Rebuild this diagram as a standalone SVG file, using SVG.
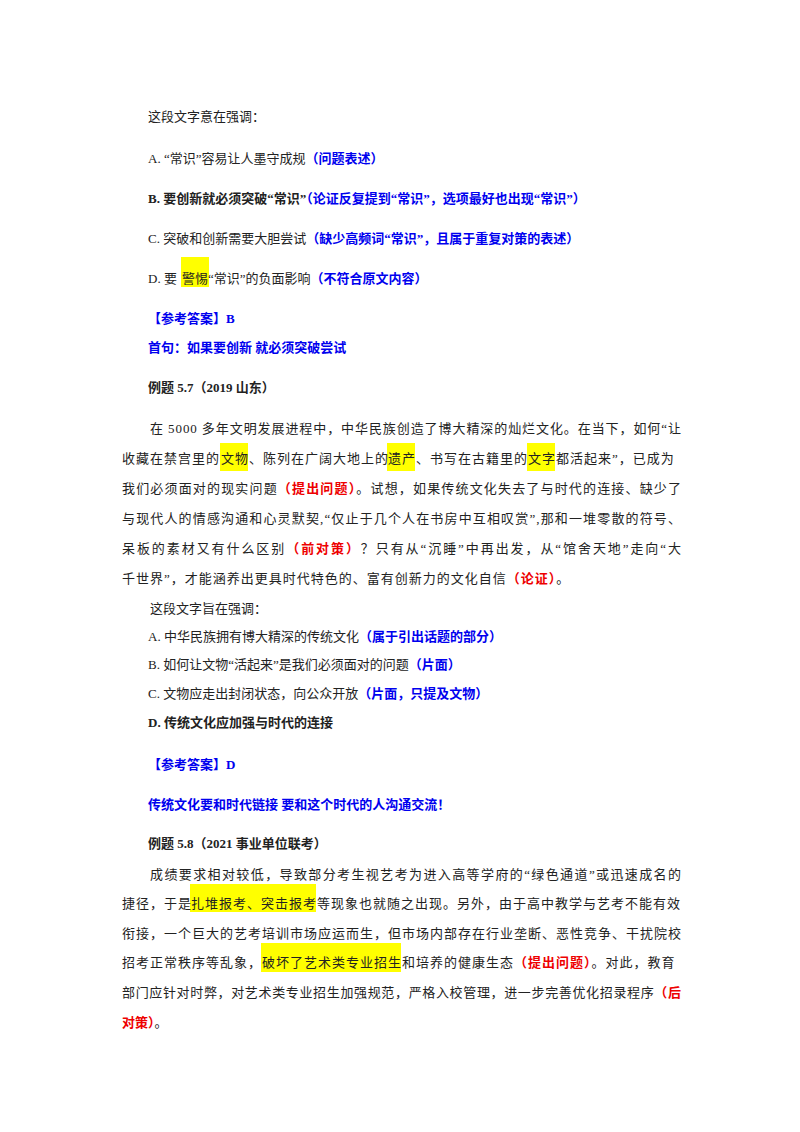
<svg xmlns="http://www.w3.org/2000/svg" width="800" height="1132" viewBox="0 0 800 1132">
<style>
text{font-family:"Liberation Serif","Noto Sans CJK SC",serif;font-size:13px;fill:#222}
.b{font-weight:bold}
.bl{fill:#0000ee;font-weight:bold}
.r{fill:#ee0000;font-weight:bold}
.hl{fill:#ffff00}
.ls{letter-spacing:1px}
</style>
<rect width="800" height="1132" fill="#fff"/>
<rect class="hl" x="181" y="257" width="28" height="30"/>
<rect class="hl" x="220" y="443" width="28" height="28"/>
<rect class="hl" x="387" y="443" width="28" height="28"/>
<rect class="hl" x="527" y="443" width="28" height="28"/>
<rect class="hl" x="190" y="884" width="126" height="28"/>
<rect class="hl" x="261" y="943" width="140" height="29"/>
<text x="148" y="121">这段文字意在强调：</text>
<text x="148" y="163">A. “常识”容易让人墨守成规<tspan class="bl">（问题表述）</tspan></text>
<text x="148" y="203" class="b">B. 要创新就必须突破“常识”<tspan class="bl">（论证反复提到“常识”，选项最好也出现“常识”）</tspan></text>
<text x="148" y="243">C. 突破和创新需要大胆尝试<tspan class="bl">（缺少高频词“常识”，且属于重复对策的表述）</tspan></text>
<text x="148" y="283">D. 要<tspan x="182">警惕</tspan>“常识”的负面影响<tspan class="bl">（不符合原文内容）</tspan></text>
<text x="148" y="323" class="bl">【参考答案】B</text>
<text x="148" y="352" class="bl">首句：如果要创新 就必须突破尝试</text>
<text x="148" y="392" class="b">例题 5.7（2019 山东）</text>
<text x="150" y="433" textLength="531" lengthAdjust="spacing">在 5000 多年文明发展进程中，中华民族创造了博大精深的灿烂文化。在当下，如何“让</text>
<text x="122" y="463" class="ls">收藏在禁宫里的<tspan x="221">文物</tspan>、陈列在广阔大地上的<tspan x="388">遗产</tspan>、书写在古籍里的<tspan x="528">文字</tspan>都活起来”，已成为</text>
<text x="122" y="493" textLength="559" lengthAdjust="spacing">我们必须面对的现实问题<tspan class="r">（提出问题）</tspan>。试想，如果传统文化失去了与时代的连接、缺少了</text>
<text x="122" y="523" textLength="559" lengthAdjust="spacing">与现代人的情感沟通和心灵默契,“仅止于几个人在书房中互相叹赏”,那和一堆零散的符号、</text>
<text x="122" y="553" textLength="559" lengthAdjust="spacing">呆板的素材又有什么区别<tspan class="r">（前对策）</tspan>？只有从“沉睡”中再出发，从“馆舍天地”走向“大</text>
<text x="122" y="583" class="ls">千世界”，才能涵养出更具时代特色的、富有创新力的文化自信<tspan class="r">（论证）</tspan>。</text>
<text x="150" y="613">这段文字旨在强调：</text>
<text x="148" y="641">A. 中华民族拥有博大精深的传统文化<tspan class="bl">（属于引出话题的部分）</tspan></text>
<text x="148" y="669">B. 如何让文物“活起来”是我们必须面对的问题<tspan class="bl">（片面）</tspan></text>
<text x="148" y="698">C. 文物应走出封闭状态，向公众开放<tspan class="bl">（片面，只提及文物）</tspan></text>
<text x="148" y="727" class="b">D. 传统文化应加强与时代的连接</text>
<text x="148" y="769" class="bl">【参考答案】D</text>
<text x="148" y="809" class="bl">传统文化要和时代链接 要和这个时代的人沟通交流！</text>
<text x="148" y="848" class="b">例题 5.8（2021 事业单位联考）</text>
<text x="150" y="879" textLength="531" lengthAdjust="spacing">成绩要求相对较低，导致部分考生视艺考为进入高等学府的“绿色通道”或迅速成名的</text>
<text x="122" y="908" class="ls">捷径，于是<tspan x="191">扎堆报考、突击报考</tspan>等现象也就随之出现。另外，由于高中教学与艺考不能有效</text>
<text x="122" y="938" textLength="559" lengthAdjust="spacing">衔接，一个巨大的艺考培训市场应运而生，但市场内部存在行业垄断、恶性竞争、干扰院校</text>
<text x="122" y="967" class="ls">招考正常秩序等乱象，<tspan x="262">破坏了艺术类专业招生</tspan>和培养的健康生态<tspan class="r">（提出问题）</tspan>。对此，教育</text>
<text x="122" y="997" textLength="559" lengthAdjust="spacing">部门应针对时弊，对艺术类专业招生加强规范，严格入校管理，进一步完善优化招录程序<tspan class="r">（后</tspan></text>
<text x="122" y="1027" class="r">对策）<tspan style="fill:#222;font-weight:normal">。</tspan></text>
</svg>
